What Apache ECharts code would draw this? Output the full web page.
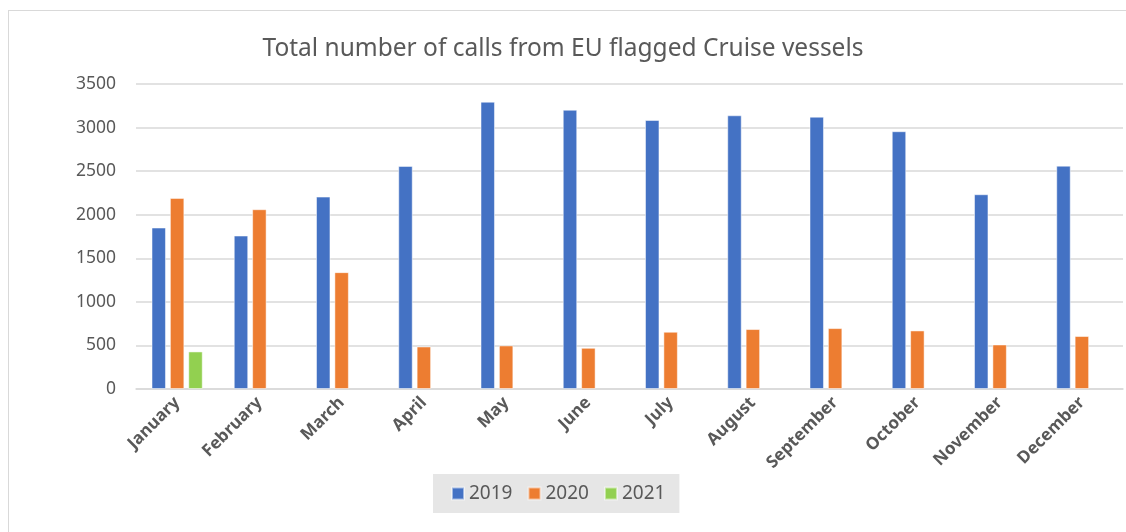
<!DOCTYPE html>
<html>
<head>
<meta charset="utf-8">
<script src="https://cdn.jsdelivr.net/npm/echarts@6/dist/echarts.min.js"></script>
<style>
html,body{margin:0;padding:0;background:#fff;}
#frame{position:absolute;left:8px;top:10px;width:1130px;height:540px;border:1px solid #d9d9d9;box-sizing:border-box;}
#chart{position:absolute;left:0;top:0;width:1126px;height:532px;}
</style>
</head>
<body>
<div id="frame"></div>
<div id="chart"></div>
<script>
const titleText = 'Total number of calls from EU flagged Cruise vessels';
const months = ['January','February','March','April','May','June','July','August','September','October','November','December'];
const yTicks = [0, 500, 1000, 1500, 2000, 2500, 3000, 3500];
const seriesNames = ['2019', '2020', '2021'];
const calls2019 = [1853, 1761, 2208, 2560, 3297, 3205, 3087, 3141, 3125, 2958, 2235, 2563];
const calls2020 = [2193, 2063, 1341, 488, 500, 473, 657, 688, 699, 672, 511, 608];
const calls2021 = [431, null, null, null, null, null, null, null, null, null, null, null];

const colors = ['#4472C4', '#ED7D31', '#92D050'];
const chart = echarts.init(document.getElementById('chart'), null, {renderer: 'canvas'});
const font = 'Noto Sans';
chart.setOption({
  animation: false,
  color: colors,
  title: {
    text: titleText,
    left: 'center',
    top: 37,
    padding: 0,
    textStyle: {fontFamily: font, fontSize: 24.5, fontWeight: 'normal', color: '#595959'}
  },
  legend: {
    data: seriesNames,
    left: 433,
    top: 474,
    width: 243,
    height: 40,
    padding: [10, 14, 10, 18],
    backgroundColor: '#e6e6e6',
    itemWidth: 12,
    itemHeight: 12,
    itemGap: 15,
    icon: 'rect',
    textStyle: {fontFamily: font, fontSize: 19, color: '#595959'}
  },
  grid: {left: 136, right: 3, top: 84, bottom: 143, containLabel: false},
  xAxis: {
    type: 'category',
    data: months,
    axisLine: {lineStyle: {color: '#d9d9d9', width: 1.5}},
    axisTick: {show: false},
    axisLabel: {rotate: 45, fontFamily: font, fontSize: 17, fontWeight: 'bold', color: '#595959', margin: 11, interval: 0}
  },
  yAxis: {
    type: 'value',
    min: yTicks[0],
    max: yTicks[yTicks.length - 1],
    interval: 500,
    axisLine: {show: false},
    axisTick: {show: false},
    splitLine: {lineStyle: {color: '#d9d9d9', width: 1.5}},
    axisLabel: {fontFamily: font, fontSize: 17.5, color: '#595959', margin: 20, formatter: v => String(v)}
  },
  series: [
    {name: seriesNames[0], type: 'bar', data: calls2019, barWidth: '17.6%', barGap: '27%',
     itemStyle: {borderColor: 'rgba(255,255,255,0.5)', borderWidth: 1}},
    {name: seriesNames[1], type: 'bar', data: calls2020, barWidth: '17.6%', barGap: '27%',
     itemStyle: {borderColor: 'rgba(255,255,255,0.5)', borderWidth: 1}},
    {name: seriesNames[2], type: 'bar', data: calls2021, barWidth: '17.6%', barGap: '27%',
     itemStyle: {borderColor: 'rgba(255,255,255,0.5)', borderWidth: 1}}
  ]
});
</script>
</body>
</html>
